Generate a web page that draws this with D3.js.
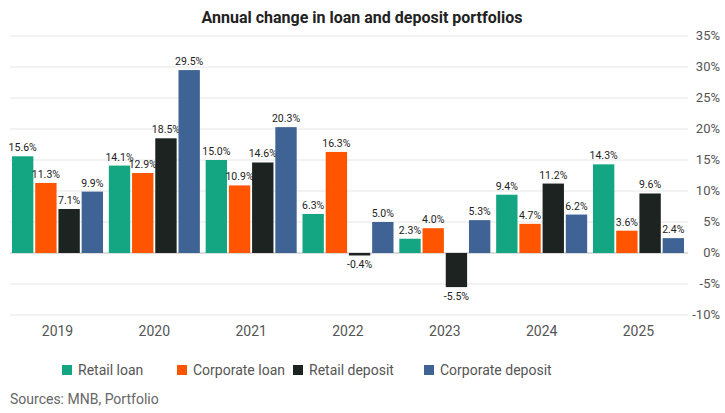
<!DOCTYPE html>
<html><head><meta charset="utf-8">
<script src="https://cdn.jsdelivr.net/npm/d3@7"></script>
<style>body{margin:0;background:#fff;font-family:Roboto,"Noto Sans",sans-serif}</style>
</head><body><svg id="c" width="725" height="413"></svg>
<script>
var years = ["2019","2020","2021","2022","2023","2024","2025"];
var seriesNames = ["Retail loan","Corporate loan","Retail deposit","Corporate deposit"];
var colors = ["#14a582","#ff5500","#1c2321","#3e6394"];
var retailLoan = [15.6,14.1,15.0,6.3,2.3,9.4,14.3];
var corporateLoan = [11.3,12.9,10.9,16.3,4.0,4.7,3.6];
var retailDeposit = [7.1,18.5,14.6,-0.4,-5.5,11.2,9.6];
var corporateDeposit = [9.9,29.5,20.3,5.0,5.3,6.2,2.4];
var yTicks = [-10,-5,0,5,10,15,20,25,30,35];
var series = [retailLoan,corporateLoan,retailDeposit,corporateDeposit];

var svg = d3.select("#c");
var x = d3.scaleBand().domain(years).range([12,684]).paddingInner(0.06).paddingOuter(0);
var x1 = d3.scaleBand().domain(d3.range(4)).range([0,x.bandwidth()]).paddingInner(0.08);
var y = d3.scaleLinear().domain([-10,35]).range([315,36]);

svg.append("text").attr("x",362).attr("y",23).attr("text-anchor","middle")
	.attr("font-size",16).attr("font-weight","bold").attr("fill","#222")
	.text("Annual change in loan and deposit portfolios");

svg.selectAll(".grid").data(yTicks).enter().append("line")
	.attr("x1",10).attr("x2",688).attr("y1",function(d){return y(d);}).attr("y2",function(d){return y(d);})
	.attr("stroke",function(d){return d==0?"#bbb":"#e6e6e6";}).attr("stroke-width",1);

svg.selectAll(".yl").data(yTicks).enter().append("text")
	.attr("x",720).attr("y",function(d){return y(d)+4;}).attr("text-anchor","end")
	.attr("font-size",13).attr("fill","#555").text(function(d){return d+"%";});

svg.selectAll(".xl").data(years).enter().append("text")
	.attr("x",function(d){return x(d)+x.bandwidth()/2;}).attr("y",336).attr("text-anchor","middle")
	.attr("font-size",14).attr("fill","#555").text(function(d){return d;});

series.forEach(function(vals,si) {
	var g = svg.append("g");
	g.selectAll("rect").data(vals).enter().append("rect")
		.attr("x",function(d,i){return x(years[i])+x1(si);})
		.attr("width",x1.bandwidth())
		.attr("y",function(d){return y(Math.max(0,d));})
		.attr("height",function(d){return Math.abs(y(d)-y(0));})
		.attr("fill",colors[si]);
	g.selectAll("text").data(vals).enter().append("text")
		.attr("x",function(d,i){return x(years[i])+x1(si)+x1.bandwidth()/2;})
		.attr("y",function(d){return d>=0?y(d)-5:y(d)+13;})
		.attr("text-anchor","middle").attr("font-size",10.5).attr("fill","#222")
		.text(function(d){return d.toFixed(1)+"%";});
});

var lx = [62,177,293,424];
seriesNames.forEach(function(n,i){
	svg.append("rect").attr("x",lx[i]).attr("y",365).attr("width",10).attr("height",10).attr("fill",colors[i]);
	svg.append("text").attr("x",lx[i]+16).attr("y",375).attr("font-size",14).attr("fill","#555").text(n);
});
svg.append("text").attr("x",10).attr("y",404).attr("font-size",14).attr("fill","#666").text("Sources: MNB, Portfolio");
</script></body></html>
